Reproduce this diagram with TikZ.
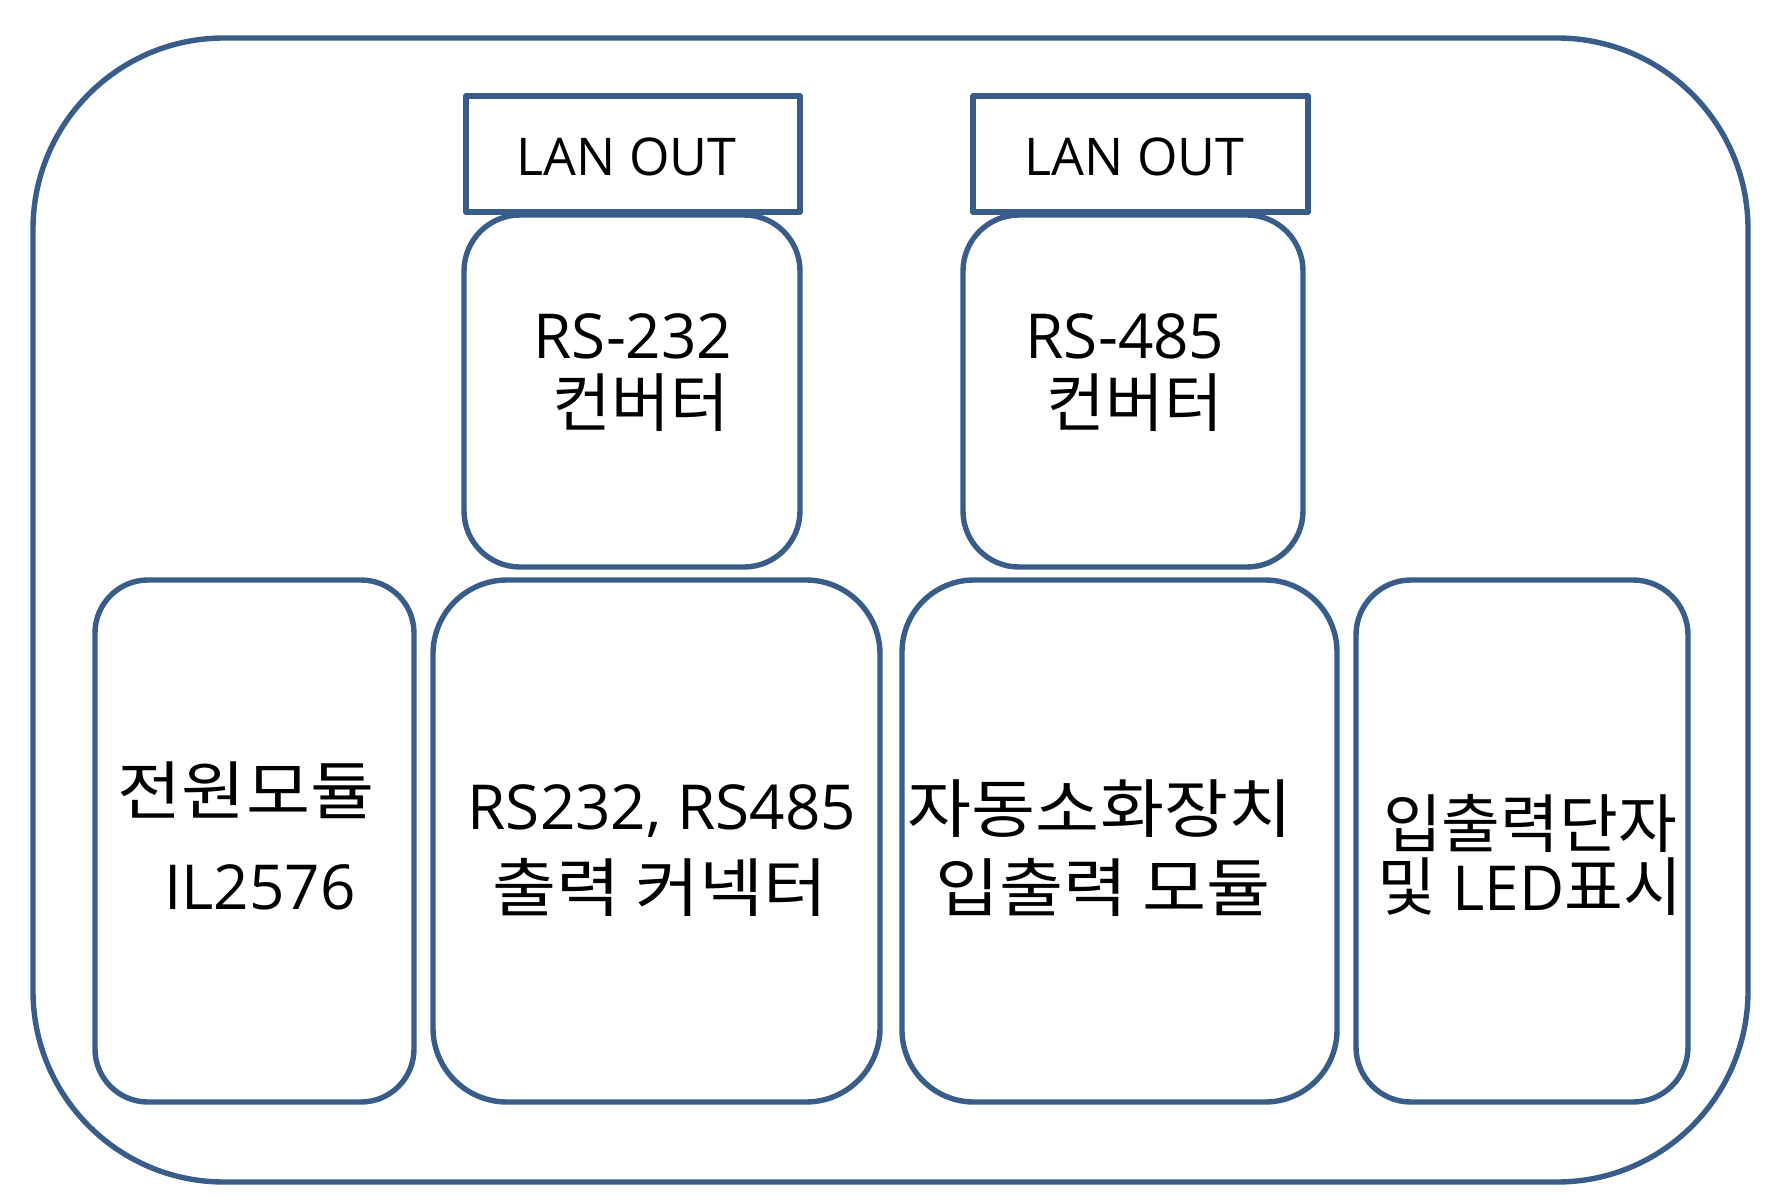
\documentclass[tikz,border=0pt]{standalone}
\usepackage{fontspec}
\setmainfont{Open Sans}
\newfontfamily\kr[FakeStretch=1.09,Scale=1.03]{Noto Sans CJK KR}
\newfontfamily\krn[Scale=1.03]{Noto Sans CJK KR}
\definecolor{boxblue}{HTML}{385D8A}
\begin{document}
\begin{tikzpicture}[x=0.5pt,y=-0.5pt,
  box/.style={draw=boxblue, line width=2.7pt, inner sep=0pt, outer sep=0pt},
  lanbox/.style={box, line join=round},
  body/.style={inner sep=0pt, font=\fontsize{31}{37}\selectfont, text=black},
  lantext/.style={inner sep=0pt, font=\fontsize{26}{31}\selectfont, text=black}]
\useasboundingbox (0,0) rectangle (1784,1204);
% outer housing
\node[box, minimum width=857.5pt, minimum height=572pt, rounded corners=95.5pt] (outer) at (890.5,610) {};
% converters
\node[box, minimum width=168pt, minimum height=176pt, rounded corners=28pt] (conv232) at (632,391) {};
\node[box, minimum width=170pt, minimum height=176pt, rounded corners=28pt] (conv485) at (1133,391) {};
% LAN OUT boxes
\node[lanbox, minimum width=167pt, minimum height=58pt] (lan1) at (633,154) {};
\node[lanbox, minimum width=167.5pt, minimum height=58pt] (lan2) at (1140.5,154) {};
% bottom row
\node[box, minimum width=159.5pt, minimum height=261pt, rounded corners=26.5pt] (power) at (254.5,841) {};
\node[box, minimum width=223.5pt, minimum height=261pt, rounded corners=37pt] (conn) at (656.5,841) {};
\node[box, minimum width=217.5pt, minimum height=261pt, rounded corners=36pt] (fire) at (1119.5,841) {};
\node[box, minimum width=166pt, minimum height=261pt, rounded corners=27.5pt] (term) at (1522,841) {};
% texts
\node[lantext] (lan1t) at (626.5,156.5) {LAN OUT};
\node[lantext] (lan2t) at (1134.5,156.5) {LAN OUT};
\node[body] (c232a) at (633,336) {RS-232};
\node[body] (c232b) at (641,403) {\krn 컨버터};
\node[body] (c485a) at (1125,336) {RS-485};
\node[body] (c485b) at (1135,403) {\krn 컨버터};
\node[body] (powa) at (246,790) {\kr 전원모듈};
\node[body] (powb) at (260,887) {IL2576};
\node[body] (conna) at (662,811) {RS232, RS485};
\node[body] (connb) at (660,887) {\kr 출력 커넥터};
\node[body] (firea) at (1100,809) {\kr 자동소화장치};
\node[body] (fireb) at (1103,887) {\kr 입출력 모듈};
\node[body] (terma) at (1530,823) {\krn 입출력단자};
\node[body] (termb) at (1530,887) {{\krn 및} LED{\krn 표시}};
\end{tikzpicture}
\end{document}
